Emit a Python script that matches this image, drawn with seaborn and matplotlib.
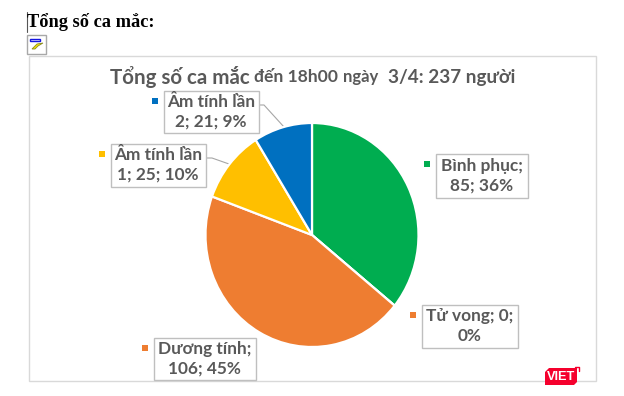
import matplotlib
matplotlib.use("Agg")
import matplotlib.pyplot as plt
from matplotlib.patches import Rectangle, Polygon
import seaborn as sns

# slices, clockwise from 12 o'clock
categories = ["Bình phục", "Tử vong", "Dương tính", "Âm tính lần 1", "Âm tính lần 2"]
cases = [85, 0, 106, 25, 21]
percents = [36, 0, 45, 10, 9]
colors = ["#00AD50", "#EE7D31", "#EE7D31", "#FFBF00", "#0070C0"]
page_heading = "Tổng số ca mắc:"
title_parts = ["Tổng số ca mắc", "đến 18h00", "ngày", "3/4: 237 người"]

W, H = 624, 396
sns.set_theme(style="white")
plt.rcParams["font.family"] = ["Lato", "Liberation Sans", "DejaVu Sans"]
sns.set_palette(colors)

fig = plt.figure(figsize=(W / 100, H / 100), dpi=100)
fig.patch.set_facecolor("white")

# page layer in pixel coordinates, y down
page = fig.add_axes([0, 0, 1, 1])
page.set_xlim(0, W)
page.set_ylim(H, 0)
page.axis("off")

page.add_patch(Rectangle((28.5, 55.5), 567, 325, fc="white", ec="#D9D9D9", lw=1))

# heading and broken image icon
page.plot([26.5, 26.5], [12, 32], color="#555555", lw=0.8)
page.text(27, 22, page_heading, family=["Liberation Serif"], weight="bold", fontsize=13.2,
          color="black", va="center", ha="left")
page.add_patch(Rectangle((26.5, 34.5), 19, 19, fc="white", ec="#A8A8A8", lw=1))
page.add_patch(Rectangle((29.5, 38.5), 10, 2.5, fc="white", ec="#1414E0", lw=1))
page.add_patch(Polygon([(32, 49), (37, 44), (43, 43), (38, 46), (35, 49)], fc="#F2E30C", ec="#8A8A20", lw=0.6))

# title runs have different sizes in the source
title_runs = [(110, 14.8), (254, 12.6), (343, 12), (388, 13.6)]
for part, (x, size) in zip(title_parts, title_runs):
    page.text(x, 77, part, fontsize=size, weight="bold", color="#595959", ha="left", va="center")

# pie, stretched slightly taller than wide like the source
pie_ax = fig.add_axes([205.5 / W, 1 - 347 / H, 213 / W, 224 / H])
pie_ax.pie(cases, colors=sns.color_palette(), startangle=90, counterclock=False, radius=1,
           wedgeprops={"edgecolor": "white", "linewidth": 1.6})
pie_ax.set_aspect("auto")
pie_ax.set_xlim(-1, 1)
pie_ax.set_ylim(-1, 1)

# data label boxes: x0, y0, x1, y1 in pixels, then text and key colour
boxes = [
    (435, 153, 527, 197, f"{categories[0]};\n{cases[0]}; {percents[0]}%", colors[0]),
    (421, 304, 517, 347, f"{categories[1]}; {cases[1]};\n{percents[1]}%", colors[1]),
    (153, 337, 255, 379, f"{categories[2]};\n{cases[2]}; {percents[2]}%", colors[2]),
    (110, 143, 205, 186, "Âm tính lần\n" + f"1; {cases[3]}; {percents[3]}%", colors[3]),
    (163, 90, 258, 132, "Âm tính lần\n" + f"2; {cases[4]}; {percents[4]}%", colors[4]),
]
for x0, y0, x1, y1, label, color in boxes:
    page.add_patch(Rectangle((x0 + 0.5, y0 + 0.5), x1 - x0, y1 - y0, fc="white", ec="#BFBFBF", lw=1, zorder=3))
    page.text((x0 + x1) / 2 + 0.5, (y0 + y1) / 2 + 0.5, label, fontsize=12.4, weight="bold", color="#595959",
              ha="center", va="center", linespacing=1.25, zorder=4)
    page.add_patch(Rectangle((x0 - 11, y0 + 8), 6, 6, fc=color, ec="none", zorder=4))

# leader lines
page.plot([258, 264, 284], [105, 105, 127], color="#A6A6A6", lw=0.8, zorder=2)
page.plot([205, 212, 229], [158, 158, 164], color="#A6A6A6", lw=0.8, zorder=2)

# VIET watermark
page.add_patch(Polygon([(545, 372), (549, 368), (577, 368), (577, 382), (574, 385), (545, 385)],
                       fc="#F5002D", ec="none", zorder=5))
page.plot([575, 579, 579], [367, 367, 371], color="#F5002D", lw=1, zorder=5)
page.text(561, 377, "VIET", fontsize=9.2, weight="bold", color="white", ha="center", va="center",
          family=["Liberation Sans"], zorder=6)

fig.savefig("out.png", dpi=100)
